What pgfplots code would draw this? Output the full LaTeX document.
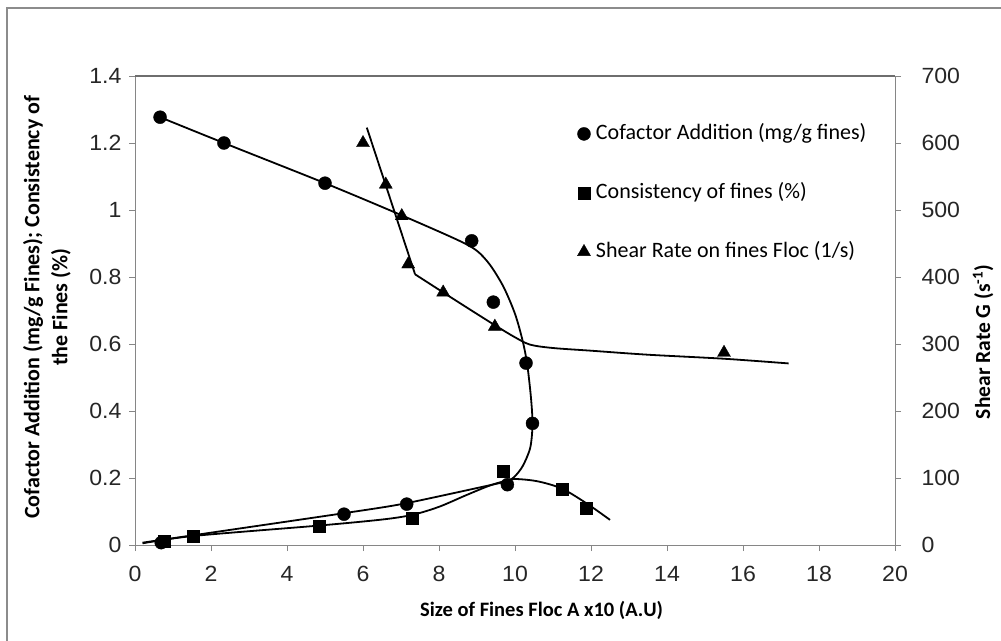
\documentclass[border=0pt]{standalone}
\usepackage{fontspec}
\setmainfont{Carlito}
\newfontfamily\tickfont{Liberation Sans}[FakeStretch=1.05]
\usepackage{pgfplots}
\pgfplotsset{compat=1.18}
\definecolor{axisgray}{HTML}{868686}
\definecolor{topgray}{HTML}{6E6E6E}
\definecolor{framegray}{HTML}{8C8C8C}

\pgfplotsset{
  chartbase/.style={
    at={(135pt,95pt)}, anchor=south west, scale only axis,
    width=760pt, height=469pt,
    xmin=0, xmax=20,
    axis line style={axisgray, line width=0.8pt},
    ticklabel style={font=\tickfont\fontsize{22}{26}\selectfont, text=black!85},
    /pgf/number format/assume math mode=true,
    clip=false,
  },
  ticksout/.style={
    tick align=outside, major tick length=6pt,
    every tick/.style={axisgray, line width=0.8pt},
  },
  curve/.style={black, line width=1.8pt, no markers, forget plot},
  circ/.style={black, only marks, mark=*, mark size=6.5pt},
  sq/.style={black, only marks, mark=square*, mark size=6pt},
  tri/.style={black, only marks, mark=triangle*, mark size=7.5pt},
}

\begin{document}
\begin{tikzpicture}[x=1pt,y=1pt]
\path[use as bounding box] (0,0) rectangle (1001,640);
\begin{scope}
  \clip (0,0) rectangle (1001,640);
  \draw[framegray, line width=2pt] (7,-20) rectangle (1020,632);
\end{scope}

% left axis: cofactor addition and consistency
\begin{axis}[chartbase,
  axis x line*=bottom, axis y line*=left, ticksout,
  ymin=0, ymax=1.4,
  xtick={0,2,4,6,8,10,12,14,16,18,20},
  ytick={0,0.2,0.4,0.6,0.8,1,1.2,1.4},
  xticklabel style={yshift=-12pt},
  yticklabel style={xshift=-4pt},
  xlabel={\bfseries Size of Fines Floc A x10 (A.U)},
  xlabel style={at={(axis description cs:0.535,-0.139)}, anchor=center,
    font=\fontsize{20.5}{26}\selectfont},
  ylabel={\bfseries Cofactor Addition (mg/g Fines); Consistency of\\\bfseries the Fines (\%)},
  ylabel style={at={(axis description cs:-0.116,0.507)}, anchor=center,
    align=center, font=\fontsize{22}{28}\selectfont},
]
% cofactor curve
\addplot[curve, smooth, tension=0.5] coordinates {
  (0.66,1.277) (2.34,1.2) (5.0,1.08) (7.0,0.985) (8.5,0.91) (9.0,0.878)
  (9.35,0.835) (9.7,0.77) (10.0,0.69) (10.2,0.61) (10.32,0.54) (10.42,0.44)
  (10.46,0.36) (10.4,0.29) (10.2,0.235) (9.98,0.203) (9.8,0.19)};
\addplot[curve, smooth, tension=0.4] coordinates {
  (9.8,0.19) (7.15,0.125) (5.5,0.095) (0.2,0.007)};
% consistency curve
\addplot[curve, smooth, tension=0.5] coordinates {
  (0.2,0.005) (1.54,0.027) (4.84,0.058) (6.5,0.076) (7.3,0.09) (8.0,0.114)
  (8.7,0.148) (9.3,0.176) (9.7,0.19) (10.0,0.197) (10.6,0.19) (11.24,0.168)
  (11.9,0.123) (12.5,0.075)};
\addplot[circ] coordinates {
  (0.66,1.277) (2.34,1.2) (5.0,1.08) (8.86,0.908) (9.43,0.725) (10.29,0.543)
  (10.46,0.363) (9.8,0.18) (7.15,0.122) (5.5,0.092) (0.69,0.007)};
\addplot[sq] coordinates {
  (0.78,0.01) (1.54,0.027) (4.84,0.057) (7.3,0.08) (9.68,0.22) (11.24,0.168)
  (11.87,0.11)};
\end{axis}

% right axis: shear rate
\begin{axis}[chartbase,
  axis y line*=right, axis x line*=top, ticksout,
  x axis line style={topgray, line width=1.2pt},
  xtick=\empty,
  ymin=0, ymax=700, ytick={0,100,200,300,400,500,600,700},
  yticklabel style={xshift=17pt},
  ylabel={\bfseries Shear Rate G (s\textsuperscript{-1})},
  ylabel style={at={(axis description cs:1.116,0.433)}, anchor=center,
    font=\fontsize{21.5}{26}\selectfont},
  legend style={draw=none, fill=none, at={(0.578,0.910)}, anchor=north west,
    font=\fontsize{22}{26}\selectfont, row sep=32pt, column sep=0pt,
    nodes={inner sep=3pt, text height=16pt, text depth=5pt}},
  legend cell align=left,
  legend image code/.code={\draw[#1] plot coordinates {(6pt,0pt)};
    \path[draw=none, fill=none] (0pt,-6pt) rectangle (15pt,6pt);},
]
\addlegendimage{circ}
\addlegendimage{sq}
\addplot[curve] coordinates {(6.1,623) (7.37,404)};
\addplot[curve, smooth, tension=0.5] coordinates {
  (7.37,404) (8.11,377) (8.8,352) (9.5,327) (10.0,310) (10.4,299) (11.0,294)
  (12.0,290) (13.5,284) (15.5,278) (17.2,271)};
\addplot[tri] coordinates {
  (6.0,600) (6.6,538) (7.02,491) (7.19,419) (8.11,377) (9.47,326) (15.5,287)};
\legend{Cofactor Addition (mg/g fines), Consistency of fines (\%), Shear Rate on fines Floc (1/s)}
\end{axis}
\end{tikzpicture}
\end{document}
